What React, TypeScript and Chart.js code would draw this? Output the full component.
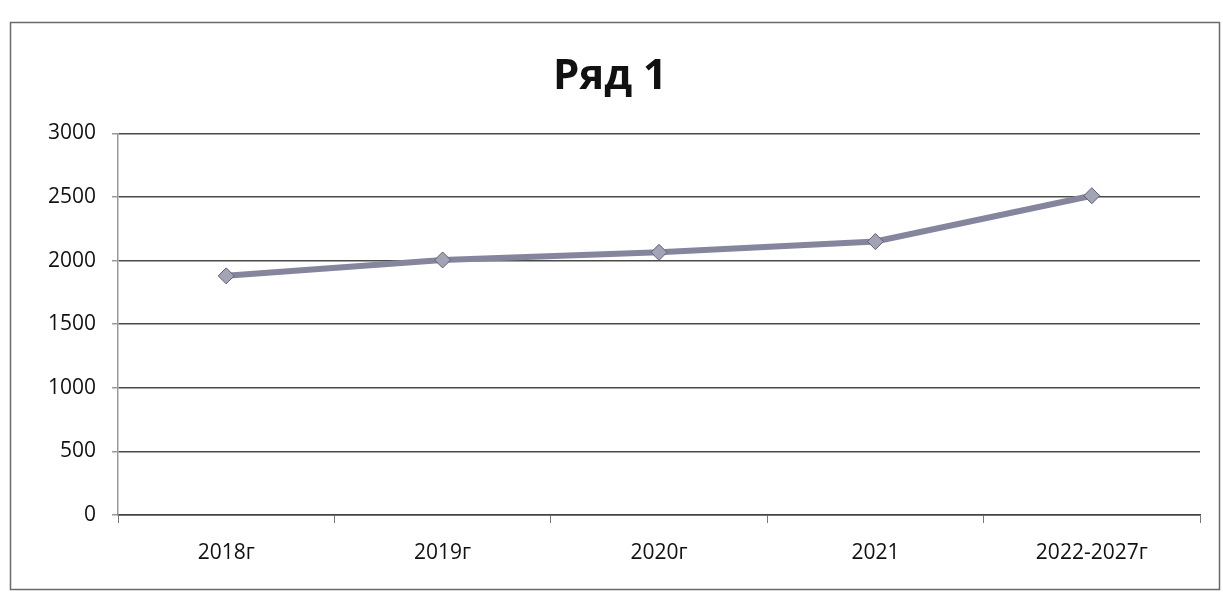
import React, { useEffect, useRef } from "react";
import { Chart, registerables } from "chart.js";

Chart.register(...registerables);

const categories = ["2018г", "2019г", "2020г", "2021", "2022-2027г"];
const seriesValues = [1880, 2005, 2065, 2150, 2510];
const seriesName = "Ряд 1";
const yMin = 0;
const yMax = 3000;
const yStep = 500;

const framePlugin = {
  id: "frame",
  beforeDraw(chart: any) {
    const ctx = chart.ctx;
    ctx.save();
    ctx.strokeStyle = "#6a6a6a";
    ctx.lineWidth = 1.5;
    ctx.strokeRect(10.5, 22.5, 1209, 567);
    ctx.restore();
  },
};

export default function App() {
  const ref = useRef<HTMLCanvasElement | null>(null);
  useEffect(() => {
    if (!ref.current) return;
    const chart = new Chart(ref.current, {
      type: "line",
      data: {
        labels: categories,
        datasets: [
          {
            label: seriesName,
            data: seriesValues,
            borderColor: "#85869e",
            borderWidth: 6,
            pointStyle: "rectRot",
            pointRadius: 8,
            pointBackgroundColor: "#a2a3b4",
            pointBorderColor: "#5e5f70",
            pointBorderWidth: 1,
            tension: 0,
          },
        ],
      },
      options: {
        animation: false,
        responsive: false,
        maintainAspectRatio: false,
        layout: { padding: { top: 0, left: 20, right: 23, bottom: 0 } },
        plugins: {
          legend: { display: false },
          tooltip: { enabled: false },
          title: {
            display: true,
            text: seriesName,
            color: "#111",
            font: { family: "Open Sans", size: 42, weight: "bold", lineHeight: 1.2 },
            padding: { top: 52, bottom: 31 },
          },
        },
        scales: {
          x: {
            type: "category",
            offset: true,
            grid: {
              offset: true,
              drawOnChartArea: false,
              drawTicks: true,
              tickLength: 8,
              color: "#777",
            },
            border: { display: true, color: "#444", width: 1.5 },
            ticks: {
              color: "#111",
              font: { family: "Open Sans", size: 21 },
              padding: 17,
              maxRotation: 0,
            },
            afterFit(scale: any) {
              scale.height = 79;
            },
          },
          y: {
            min: yMin,
            max: yMax,
            ticks: {
              stepSize: yStep,
              color: "#111",
              font: { family: "Open Sans", size: 21 },
              padding: 16,
              callback: (v: any) => String(v),
            },
            grid: {
              color: "#4a4a4a",
              lineWidth: 1.5,
              drawTicks: true,
              tickLength: 6,
              tickColor: "#999",
            },
            border: { display: true, color: "#999", width: 1.5 },
            afterFit(scale: any) {
              scale.width = 98;
            },
          },
        },
      },
      plugins: [framePlugin],
    } as any);
    return () => chart.destroy();
  }, []);
  return (
    <div style={{ position: "fixed", left: 0, top: 0, width: 1223, height: 594, background: "#fff" }}>
      <canvas ref={ref} width={1223} height={594} style={{ display: "block" }} />
    </div>
  );
}
